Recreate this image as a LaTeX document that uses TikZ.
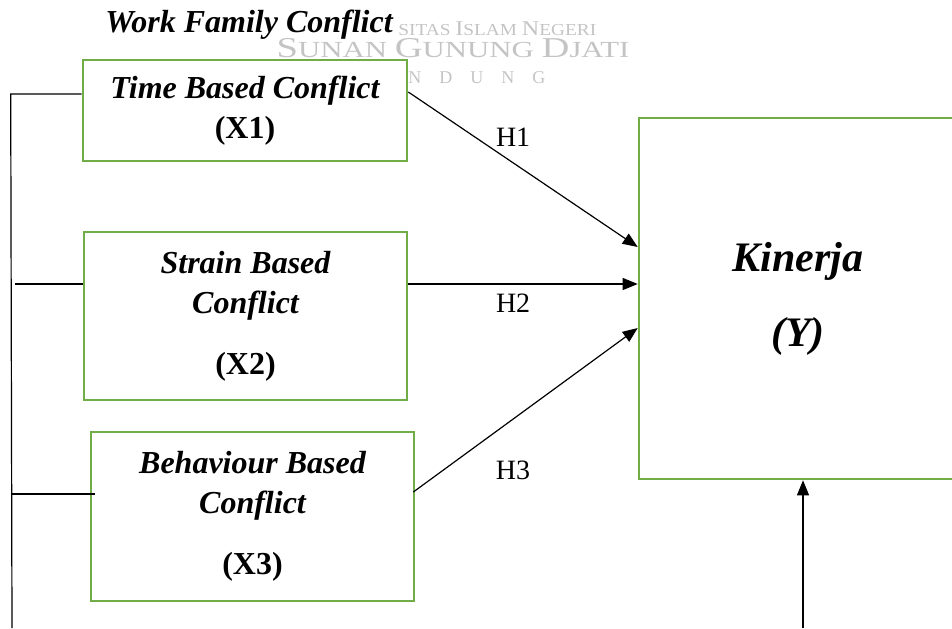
\documentclass[tikz,border=0pt]{standalone}
\usepackage{fontspec}
\setmainfont{Liberation Serif}
\usetikzlibrary{arrows.meta,calc}
\definecolor{boxgreen}{RGB}{112,173,71}
\definecolor{wmgray}{RGB}{196,196,196}
\newcommand{\scword}[4]{{\fontsize{#1}{#1}\selectfont #3}{\fontsize{#2}{#2}\selectfont #4}}

\begin{document}
\begin{tikzpicture}[x=0.5pt, y=-0.5pt,
    varbox/.style={draw=boxgreen, line width=1.3pt, fill=white, align=center, inner sep=0pt,
        font=\fontsize{16}{20}\selectfont\bfseries\itshape},
    link/.style={-{Triangle[length=7.5pt, width=6pt]}, line width=0.6pt},
    hyp/.style={font=\fontsize{14}{16}\selectfont, inner sep=2pt},
    wmtext/.style={text=wmgray, inner sep=0pt}]
    \useasboundingbox (0,0) rectangle (952,628);
    % watermark (visible parts only)
    \node[wmtext, anchor=base west, font=\fontsize{8.4}{9}\selectfont] (wm1) at (398,35) {\scalebox{1.15}[1]{SITAS \scword{10.5}{8.4}{I}{SLAM} \scword{10.5}{8.4}{N}{EGERI}}};
    \node[wmtext, anchor=base, font=\fontsize{11.5}{12}\selectfont] (wm2) at (453,57) {\scalebox{1.34}[1]{\scword{14.4}{11.5}{S}{UNAN} \scword{14.4}{11.5}{G}{UNUNG} \scword{14.4}{11.5}{D}{JATI}}};
    \node[wmtext, anchor=base west, font=\fontsize{9}{10}\selectfont] (wm3) at (408,83) {N\kern9pt D\kern9pt U\kern9pt N\kern9pt G};
    % variables
    \node[varbox, minimum width=162pt, minimum height=50.5pt] (x1) at (245,110.5) {Time Based Conflict\\ \textup{(X1)}};
    \node[varbox, minimum width=161.5pt, minimum height=84pt] (x2) at (245.5,316) {Strain Based\\ Conflict\\[10.5pt] \textup{(X2)}};
    \node[varbox, minimum width=161.5pt, minimum height=84.5pt] (x3) at (252.5,516.5) {Behaviour Based\\ Conflict\\[10.5pt] \textup{(X3)}};
    \node[varbox, minimum width=159pt, minimum height=180.5pt, font=\fontsize{21}{37.5}\selectfont\bfseries\itshape] (ky) at (798,298.5) {Kinerja\\ (Y)};
    \node[anchor=base, inner sep=2pt, font=\fontsize{16}{20}\selectfont\bfseries\itshape] (title) at (249,32) {Work Family Conflict};
    % left bracket
    \coordinate (spinetop) at ($(x1.west)+(-71,-16.5)$);
    \coordinate (spinebot) at (12,628);
    \draw[line width=0.6pt] ($(x1.west)+(0,-16.5)$) -- (spinetop) -- (spinebot);
    \draw[line width=0.6pt] ($(x2.west)+(-68,-32)$) -- ($(x2.west)+(0,-32)$);
    \draw[line width=0.6pt] ($(x3.west)+(-79,-22.5)$) -- ($(x3.west)+(5,-22.5)$);
    % hypotheses
    \draw[link] ($(x1.east)+(0,-18.5)$) -- node[hyp, pos=0.457, above=6pt] (h1) {H1} ($(ky.west)+(0,-51.5)$);
    \draw[link] ($(x2.east)+(0,-32)$) -- node[hyp, pos=0.457, below=2.75pt] (h2) {H2} ($(ky.west)+(0,-14.5)$);
    \draw[link] ($(x3.east)+(-2,-24.5)$) -- node[hyp, pos=0.444, below=18.75pt] (h3) {H3} ($(ky.west)+(0,29.5)$);
    \coordinate (kybot) at (803,628);
    \draw[link] (kybot) -- (kybot |- ky.south);
\end{tikzpicture}
\end{document}
